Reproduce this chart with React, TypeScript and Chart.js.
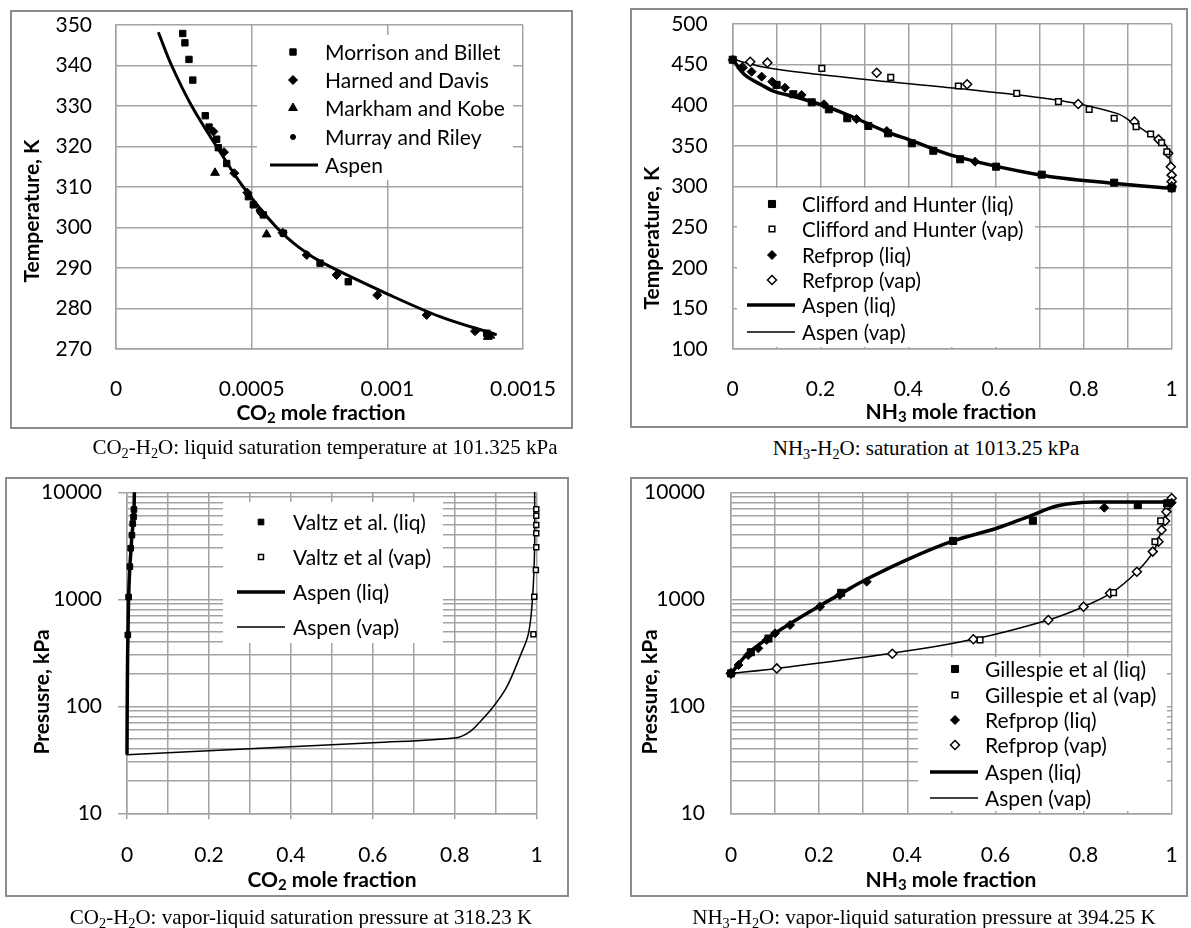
import React, { useEffect, useRef } from 'react';
import { Chart, registerables } from 'chart.js';

Chart.register(...registerables);
Chart.defaults.font.family = 'Lato, "Open Sans", sans-serif';
Chart.defaults.color = '#000';

type Pt = [number, number];

// ---------------- Panel 1: CO2-H2O liquid saturation temperature ----------------
const p1XTicks = [0, 0.0005, 0.001, 0.0015];
const p1YTicks = [270, 280, 290, 300, 310, 320, 330, 340, 350];
const p1Morrison: Pt[] = [
  [0.000246, 347.9], [0.000254, 345.6], [0.000269, 341.5], [0.000283, 336.4], [0.000329, 327.6],
  [0.000343, 324.8], [0.000371, 321.8], [0.000377, 319.7], [0.000408, 315.8], [0.000488, 307.6],
  [0.000506, 305.6], [0.000543, 303.1], [0.000617, 298.6], [0.000752, 291.2], [0.000856, 286.6],
  [0.001366, 273.9],
];
const p1Harned: Pt[] = [
  [0.000359, 323.7], [0.000398, 318.6], [0.000436, 313.4], [0.000484, 308.6], [0.000537, 303.5],
  [0.000614, 298.7], [0.000703, 293.2], [0.000813, 288.3], [0.000963, 283.3], [0.001145, 278.4],
  [0.001323, 274.4],
];
const p1Markham: Pt[] = [[0.000365, 313.5], [0.000555, 298.3], [0.00138, 273.3], [0.00137, 273.0]];
const p1Murray: Pt[] = [
  [0.000492, 307.8], [0.000526, 304.2], [0.000705, 293.4], [0.000818, 288.8], [0.000966, 283.5], [0.00133, 274.6],
];
const p1Aspen: Pt[] = [
  [0.000156, 348.2], [0.000205, 340], [0.000279, 330], [0.000371, 320], [0.000469, 310], [0.000592, 300],
  [0.000678, 294.9], [0.000764, 291.2], [0.00101, 283.3], [0.001194, 278], [0.001403, 273.5],
];

// ---------------- Panel 2: NH3-H2O saturation at 1013.25 kPa ----------------
const p2XTicks = [0, 0.1, 0.2, 0.3, 0.4, 0.5, 0.6, 0.7, 0.8, 0.9, 1];
const p2YTicks = [100, 150, 200, 250, 300, 350, 400, 450, 500];
const p2CliffLiq: Pt[] = [
  [0, 456], [0.1, 425], [0.138, 413.5], [0.18, 403.6], [0.219, 395], [0.261, 384], [0.309, 374.5],
  [0.354, 365.5], [0.408, 353.2], [0.457, 344], [0.518, 333.5], [0.6, 324.4], [0.704, 314.6],
  [0.869, 304.7], [1.0, 297.8],
];
const p2CliffVap: Pt[] = [
  [0.203, 445.4], [0.36, 434.4], [0.514, 423.7], [0.647, 414.7], [0.742, 404.4], [0.812, 395],
  [0.869, 384], [0.919, 373.6], [0.952, 364.6], [0.977, 353.9], [0.989, 342.8],
];
const p2RefLiq: Pt[] = [
  [0, 456], [0.02, 445.5], [0.043, 441.3], [0.066, 435.2], [0.09, 429], [0.119, 421.6], [0.157, 412.6],
  [0.208, 401.2], [0.282, 383], [0.351, 368.3], [0.552, 330.6], [1.0, 298],
];
const p2RefVap: Pt[] = [
  [0.022, 446.3], [0.04, 453.6], [0.079, 452.4], [0.328, 440], [0.534, 425.8], [0.787, 401.5],
  [0.915, 379.8], [0.97, 358], [0.992, 340.8], [0.998, 324.4], [1.0, 314], [1.0, 306], [1.0, 300],
];
const p2AspenLiq: Pt[] = [
  [0, 456.5], [0.028, 437.2], [0.066, 425], [0.096, 416.7], [0.142, 410.5], [0.203, 400.3],
  [0.263, 388], [0.354, 366.5], [0.404, 357.2], [0.51, 336.7], [0.7, 314.2], [0.867, 303.9], [1.0, 297.8],
];
const p2AspenVap: Pt[] = [
  [0, 456.5], [0.066, 447.5], [0.142, 441.3], [0.354, 429], [0.51, 420.8], [0.738, 406.5],
  [0.875, 390], [0.913, 377.8], [0.958, 361.3], [0.989, 349], [0.998, 320], [1.0, 299.8],
];

// ---------------- Panel 3: CO2-H2O VLE pressure at 318.23 K ----------------
const p3XTicks = [0, 0.1, 0.2, 0.3, 0.4, 0.5, 0.6, 0.7, 0.8, 0.9, 1];
const logTicks = [
  10, 20, 30, 40, 50, 60, 70, 80, 90, 100, 200, 300, 400, 500, 600, 700, 800, 900,
  1000, 2000, 3000, 4000, 5000, 6000, 7000, 8000, 9000, 10000,
];
const p3ValtzLiq: Pt[] = [
  [0.002, 464], [0.004, 1050], [0.007, 2020], [0.009, 3000], [0.012, 3980], [0.014, 5100], [0.016, 5900], [0.017, 6900],
];
const p3ValtzVap: Pt[] = [
  [0.992, 471], [0.994, 1057], [0.998, 1880], [0.999, 3060], [0.999, 4140], [0.999, 4940], [0.999, 6030], [0.999, 6930],
];
const p3AspenLiq: Pt[] = [
  [0, 35.2], [0.0005, 100], [0.0015, 300], [0.0024, 464], [0.004, 1050], [0.007, 2020], [0.01, 3000],
  [0.012, 3980], [0.015, 5130], [0.017, 6610], [0.018, 10000],
];
const p3AspenVap: Pt[] = [
  [0, 35.2], [0.4, 41.8], [0.6, 45.7], [0.805, 50.9], [0.837, 58], [0.862, 71.8], [0.894, 99], [0.927, 152],
  [0.959, 291], [0.98, 481], [0.99, 1057], [0.995, 3090], [0.995, 10000],
];

// ---------------- Panel 4: NH3-H2O VLE pressure at 394.25 K ----------------
const p4XTicks = [0, 0.1, 0.2, 0.3, 0.4, 0.5, 0.6, 0.7, 0.8, 0.9, 1];
const p4GillLiq: Pt[] = [
  [0, 203], [0.045, 320], [0.085, 430], [0.25, 1150], [0.504, 3510], [0.685, 5430], [0.923, 7600], [0.99, 7900],
];
const p4GillVap: Pt[] = [[0.565, 417], [0.868, 1153], [0.962, 3450], [0.975, 5400], [0.99, 7500]];
const p4RefLiq: Pt[] = [
  [0, 203], [0.017, 243], [0.039, 301], [0.062, 348], [0.081, 417], [0.1, 481], [0.134, 575], [0.202, 853],
  [0.247, 1097], [0.308, 1462], [0.847, 7180], [1.0, 8000],
];
const p4RefVap: Pt[] = [
  [0, 203], [0.104, 226], [0.366, 310], [0.55, 423], [0.72, 641], [0.8, 853], [0.86, 1138], [0.921, 1811],
  [0.957, 2790], [0.97, 3450], [0.977, 4450], [0.985, 5400], [0.988, 6590], [0.992, 7590], [1.0, 8790],
];
const p4AspenLiq: Pt[] = [
  [0, 203], [0.039, 313], [0.1, 481], [0.198, 853], [0.251, 1138], [0.304, 1514], [0.4, 2350],
  [0.504, 3510], [0.603, 4610], [0.678, 6000], [0.739, 7450], [0.8, 8050], [0.85, 8100], [1.0, 8100],
];
const p4AspenVap: Pt[] = [
  [0, 203], [0.104, 226], [0.365, 313], [0.55, 423], [0.72, 641], [0.8, 853], [0.864, 1153], [0.921, 1811],
  [0.958, 2786], [0.977, 4450], [0.988, 6590], [1.0, 8100],
];

// ---------------- styling helpers ----------------
const GRID = '#a3a3a3';
const FONT = 'Lato';

type MarkerStyle = 'rect' | 'rectRot' | 'triangle' | 'circle';
type Series =
  | { kind: 'pts'; label: string; data: Pt[]; style: MarkerStyle; r: number; open?: boolean }
  | { kind: 'line'; label: string; data: Pt[]; lw: number };

interface AxisDef {
  type: 'linear' | 'logarithmic';
  min: number;
  max: number;
  ticks: number[];
  label: (v: number) => string;
  padding: number;
  tickLen?: number;
  major?: (v: number) => boolean;
}

interface PanelDef {
  box: [number, number, number, number];
  plot: [number, number, number, number];
  x: AxisDef;
  y: AxisDef;
  series: Series[];
  legend: { box: [number, number, number, number]; rows: number[]; markerX: number; line: [number, number]; textX: number; font: number };
  xTitle: { parts: [string, boolean][]; x: number; y: number };
  yTitle: { text: string; x: number; y: number };
}

const isPow10 = (v: number) => Math.abs(Math.log10(v) - Math.round(Math.log10(v))) < 1e-9;
const evenTenth = (v: number) => Math.round(v * 10) % 2 === 0;
const tenthLabel = (v: number) => (evenTenth(v) ? String(Math.round(v * 10) / 10) : '');

function drawMarker(ctx: CanvasRenderingContext2D, style: MarkerStyle, r: number, open: boolean, x: number, y: number) {
  ctx.beginPath();
  if (style === 'rect') {
    const s = Math.SQRT1_2 * r;
    ctx.rect(x - s, y - s, 2 * s, 2 * s);
  } else if (style === 'rectRot') {
    ctx.moveTo(x - r, y); ctx.lineTo(x, y - r); ctx.lineTo(x + r, y); ctx.lineTo(x, y + r); ctx.closePath();
  } else if (style === 'triangle') {
    const a = (2 * Math.PI) / 3;
    ctx.moveTo(x, y - r);
    ctx.lineTo(x + Math.sin(a) * r, y - Math.cos(a) * r);
    ctx.lineTo(x + Math.sin(2 * a) * r, y - Math.cos(2 * a) * r);
    ctx.closePath();
  } else {
    ctx.arc(x, y, r, 0, Math.PI * 2);
  }
  ctx.fillStyle = open ? '#fff' : '#000';
  ctx.fill();
  ctx.strokeStyle = '#000';
  ctx.lineWidth = open ? 1.5 : 1;
  ctx.stroke();
}

function overlayPlugin(def: PanelDef) {
  const [L, T] = def.box;
  return {
    id: 'overlay',
    beforeDatasetsDraw(chart: any) {
      const ctx: CanvasRenderingContext2D = chart.ctx;
      const lg = def.legend;
      ctx.save();
      ctx.fillStyle = '#fff';
      ctx.fillRect(lg.box[0] - L, lg.box[1] - T, lg.box[2] - lg.box[0], lg.box[3] - lg.box[1]);
      ctx.font = `${lg.font}px ${FONT}`;
      ctx.textBaseline = 'middle';
      ctx.textAlign = 'left';
      def.series.forEach((s, i) => {
        const y = lg.rows[i] - T;
        if (s.kind === 'line') {
          ctx.strokeStyle = '#000';
          ctx.lineWidth = s.lw;
          ctx.beginPath();
          ctx.moveTo(lg.line[0] - L, y);
          ctx.lineTo(lg.line[1] - L, y);
          ctx.stroke();
        } else {
          drawMarker(ctx, s.style, s.r, !!s.open, lg.markerX - L, y);
        }
        ctx.fillStyle = '#000';
        ctx.fillText(s.label, lg.textX - L, y + 1);
      });
      ctx.restore();
    },
    afterDraw(chart: any) {
      const ctx: CanvasRenderingContext2D = chart.ctx;
      ctx.save();
      ctx.fillStyle = '#000';
      ctx.textBaseline = 'middle';
      const big = `bold 21px ${FONT}`;
      const small = `bold 15px ${FONT}`;
      let total = 0;
      def.xTitle.parts.forEach(([t, sub]) => { ctx.font = sub ? small : big; total += ctx.measureText(t).width; });
      let cx = def.xTitle.x - L - total / 2;
      const cy = def.xTitle.y - T;
      ctx.textAlign = 'left';
      def.xTitle.parts.forEach(([t, sub]) => {
        ctx.font = sub ? small : big;
        ctx.fillText(t, cx, sub ? cy + 5 : cy);
        cx += ctx.measureText(t).width;
      });
      ctx.translate(def.yTitle.x - L, def.yTitle.y - T);
      ctx.rotate(-Math.PI / 2);
      ctx.font = big;
      ctx.textAlign = 'center';
      ctx.fillText(def.yTitle.text, 0, 0);
      ctx.restore();
    },
  };
}

function axisOpts(a: AxisDef, pos: 'x' | 'y', size: number) {
  return {
    type: a.type,
    position: pos === 'x' ? 'bottom' : 'left',
    min: a.min,
    max: a.max,
    afterBuildTicks: (s: any) => { s.ticks = a.ticks.map((v) => ({ value: v })); },
    ticks: {
      autoSkip: false,
      maxRotation: 0,
      minRotation: 0,
      padding: a.padding,
      color: '#000',
      font: { family: FONT, size: 21 },
      callback: (v: any) => a.label(Number(v)),
    },
    grid: {
      color: GRID,
      lineWidth: 1.5,
      drawTicks: !!a.tickLen,
      tickLength: a.tickLen || 0,
      tickWidth: 1.5,
      tickColor: (c: any) => (c.tick && a.major && a.major(c.tick.value) ? GRID : 'rgba(0,0,0,0)'),
    },
    border: { color: GRID, width: 1.5 },
    afterFit: (s: any) => {
      if (pos === 'x') s.height = size; else s.width = size;
      s.paddingLeft = 0; s.paddingRight = 0; s.paddingTop = 0; s.paddingBottom = 0;
    },
  };
}

function buildConfig(def: PanelDef): any {
  const [L, T, R, B] = def.box;
  const [pl, pt, pr, pb] = def.plot;
  const datasets = def.series.map((s) => {
    const data = s.data.map(([x, y]) => ({ x, y }));
    if (s.kind === 'line') {
      return { label: s.label, data, showLine: true, pointRadius: 0, pointHoverRadius: 0, borderColor: '#000', borderWidth: s.lw, tension: 0.35, fill: false, clip: false };
    }
    return {
      label: s.label, data, showLine: false, pointStyle: s.style, pointRadius: s.r, pointHoverRadius: s.r,
      pointBackgroundColor: s.open ? '#fff' : '#000', pointBorderColor: '#000', pointBorderWidth: s.open ? 1.5 : 1, clip: false,
    };
  });
  return {
    type: 'scatter',
    data: { datasets },
    plugins: [overlayPlugin(def)],
    options: {
      responsive: false,
      animation: false,
      events: [],
      layout: { padding: { left: 0, top: pt - T, right: R - pr, bottom: 0 } },
      plugins: { legend: { display: false }, tooltip: { enabled: false } },
      scales: { x: axisOpts(def.x, 'x', B - pb), y: axisOpts(def.y, 'y', pl - L) },
    },
  };
}

// ---------------- panel definitions ----------------
const panel1: PanelDef = {
  box: [10, 10, 573, 429],
  plot: [116, 25, 523, 349],
  x: { type: 'linear', min: 0, max: 0.0015, ticks: p1XTicks, label: (v) => String(+v.toFixed(4)), padding: 28 },
  y: { type: 'linear', min: 270, max: 350, ticks: p1YTicks, label: (v) => String(v), padding: 24 },
  series: [
    { kind: 'pts', label: 'Morrison and Billet', data: p1Morrison, style: 'rect', r: 4.5 },
    { kind: 'pts', label: 'Harned and Davis', data: p1Harned, style: 'rectRot', r: 4.5 },
    { kind: 'pts', label: 'Markham and Kobe', data: p1Markham, style: 'triangle', r: 5 },
    { kind: 'pts', label: 'Murray and Riley', data: p1Murray, style: 'circle', r: 2.5 },
    { kind: 'line', label: 'Aspen', data: p1Aspen, lw: 3 },
  ],
  legend: { box: [257, 35, 513, 180], rows: [52, 80, 108, 137, 165], markerX: 293, line: [270, 318], textX: 325, font: 21 },
  xTitle: { parts: [['CO', false], ['2', true], [' mole fraction', false]], x: 321, y: 413 },
  yTitle: { text: 'Temperature, K', x: 32, y: 211 },
};

const panel2: PanelDef = {
  box: [630, 8, 1188, 428],
  plot: [732.7, 24, 1171.7, 349],
  x: { type: 'linear', min: 0, max: 1, ticks: p2XTicks, label: tenthLabel, padding: 28 },
  y: { type: 'linear', min: 100, max: 500, ticks: p2YTicks, label: (v) => String(v), padding: 25 },
  series: [
    { kind: 'pts', label: 'Clifford and Hunter (liq)', data: p2CliffLiq, style: 'rect', r: 5 },
    { kind: 'pts', label: 'Clifford and Hunter (vap)', data: p2CliffVap, style: 'rect', r: 4, open: true },
    { kind: 'pts', label: 'Refprop (liq)', data: p2RefLiq, style: 'rectRot', r: 4.5 },
    { kind: 'pts', label: 'Refprop (vap)', data: p2RefVap, style: 'rectRot', r: 4.5, open: true },
    { kind: 'line', label: 'Aspen (liq)', data: p2AspenLiq, lw: 3.5 },
    { kind: 'line', label: 'Aspen (vap)', data: p2AspenVap, lw: 1.5 },
  ],
  legend: { box: [737, 188, 1035, 347], rows: [204, 229, 255, 280, 305, 332], markerX: 772, line: [747, 795], textX: 802, font: 20.5 },
  xTitle: { parts: [['NH', false], ['3', true], [' mole fraction', false]], x: 951, y: 412 },
  yTitle: { text: 'Temperature, K', x: 652, y: 238 },
};

const panel3: PanelDef = {
  box: [5, 477, 569, 897],
  plot: [127, 492.3, 536.7, 813.3],
  x: { type: 'linear', min: 0, max: 1, ticks: p3XTicks, label: tenthLabel, padding: 23, tickLen: 6, major: evenTenth },
  y: { type: 'logarithmic', min: 10, max: 10000, ticks: logTicks, label: (v) => (isPow10(v) ? String(v) : ''), padding: 16, tickLen: 9, major: isPow10 },
  series: [
    { kind: 'pts', label: 'Valtz et al. (liq)', data: p3ValtzLiq, style: 'rect', r: 4 },
    { kind: 'pts', label: 'Valtz et al (vap)', data: p3ValtzVap, style: 'rect', r: 3.5, open: true },
    { kind: 'line', label: 'Aspen (liq)', data: p3AspenLiq, lw: 3.5 },
    { kind: 'line', label: 'Aspen (vap)', data: p3AspenVap, lw: 1.5 },
  ],
  legend: { box: [223, 502, 443, 643], rows: [522, 557, 592, 627], markerX: 261, line: [237, 285], textX: 293, font: 21 },
  xTitle: { parts: [['CO', false], ['2', true], [' mole fraction', false]], x: 332, y: 880 },
  yTitle: { text: 'Presusre, kPa', x: 42, y: 692 },
};

const panel4: PanelDef = {
  box: [630, 477, 1188, 897],
  plot: [731, 492.3, 1171.7, 813.3],
  x: { type: 'linear', min: 0, max: 1, ticks: p4XTicks, label: tenthLabel, padding: 29 },
  y: { type: 'logarithmic', min: 10, max: 10000, ticks: logTicks, label: (v) => (isPow10(v) ? String(v) : ''), padding: 26 },
  series: [
    { kind: 'pts', label: 'Gillespie et al (liq)', data: p4GillLiq, style: 'rect', r: 5 },
    { kind: 'pts', label: 'Gillespie et al (vap)', data: p4GillVap, style: 'rect', r: 4, open: true },
    { kind: 'pts', label: 'Refprop (liq)', data: p4RefLiq, style: 'rectRot', r: 4.5 },
    { kind: 'pts', label: 'Refprop (vap)', data: p4RefVap, style: 'rectRot', r: 4.5, open: true },
    { kind: 'line', label: 'Aspen (liq)', data: p4AspenLiq, lw: 3.5 },
    { kind: 'line', label: 'Aspen (vap)', data: p4AspenVap, lw: 1.5 },
  ],
  legend: { box: [918, 657, 1167, 811], rows: [669, 695, 720, 745, 772, 798], markerX: 955, line: [930, 978], textX: 985, font: 21 },
  xTitle: { parts: [['NH', false], ['3', true], [' mole fraction', false]], x: 951, y: 880 },
  yTitle: { text: 'Pressure, kPa', x: 650, y: 692 },
};

function ChartPanel({ def }: { def: PanelDef }) {
  const ref = useRef<HTMLCanvasElement>(null);
  useEffect(() => {
    const chart = new Chart(ref.current as HTMLCanvasElement, buildConfig(def));
    return () => chart.destroy();
  }, [def]);
  const [L, T, R, B] = def.box;
  return (
    <>
      <canvas ref={ref} width={R - L} height={B - T} style={{ position: 'absolute', left: L, top: T, width: R - L, height: B - T }} />
      <div style={{ position: 'absolute', left: L, top: T, width: R - L, height: B - T, border: '2px solid #8c8c8c', boxSizing: 'border-box', pointerEvents: 'none' }} />
    </>
  );
}

const subStyle: React.CSSProperties = { fontSize: '0.68em', verticalAlign: '-0.28em', lineHeight: 0 };

function Caption({ x, y, children }: { x: number; y: number; children: React.ReactNode }) {
  return (
    <div style={{ position: 'absolute', left: x, top: y - 13, transform: 'translateX(-50%)', whiteSpace: 'nowrap', fontFamily: '"Liberation Serif", "Times New Roman", serif', fontSize: 21, lineHeight: '26px', color: '#000' }}>
      {children}
    </div>
  );
}

export default function App() {
  return (
    <div style={{ position: 'absolute', left: 0, top: 0, width: 1191, height: 928, background: '#fff', overflow: 'hidden' }}>
      <ChartPanel def={panel1} />
      <ChartPanel def={panel2} />
      <ChartPanel def={panel3} />
      <ChartPanel def={panel4} />
      <Caption x={325} y={447}>CO<sub style={subStyle}>2</sub>-H<sub style={subStyle}>2</sub>O: liquid saturation temperature at 101.325 kPa</Caption>
      <Caption x={926} y={448}>NH<sub style={subStyle}>3</sub>-H<sub style={subStyle}>2</sub>O: saturation at 1013.25 kPa</Caption>
      <Caption x={301} y={917}>CO<sub style={subStyle}>2</sub>-H<sub style={subStyle}>2</sub>O: vapor-liquid saturation pressure at 318.23 K</Caption>
      <Caption x={924} y={917}>NH<sub style={subStyle}>3</sub>-H<sub style={subStyle}>2</sub>O: vapor-liquid saturation pressure at 394.25 K</Caption>
    </div>
  );
}
